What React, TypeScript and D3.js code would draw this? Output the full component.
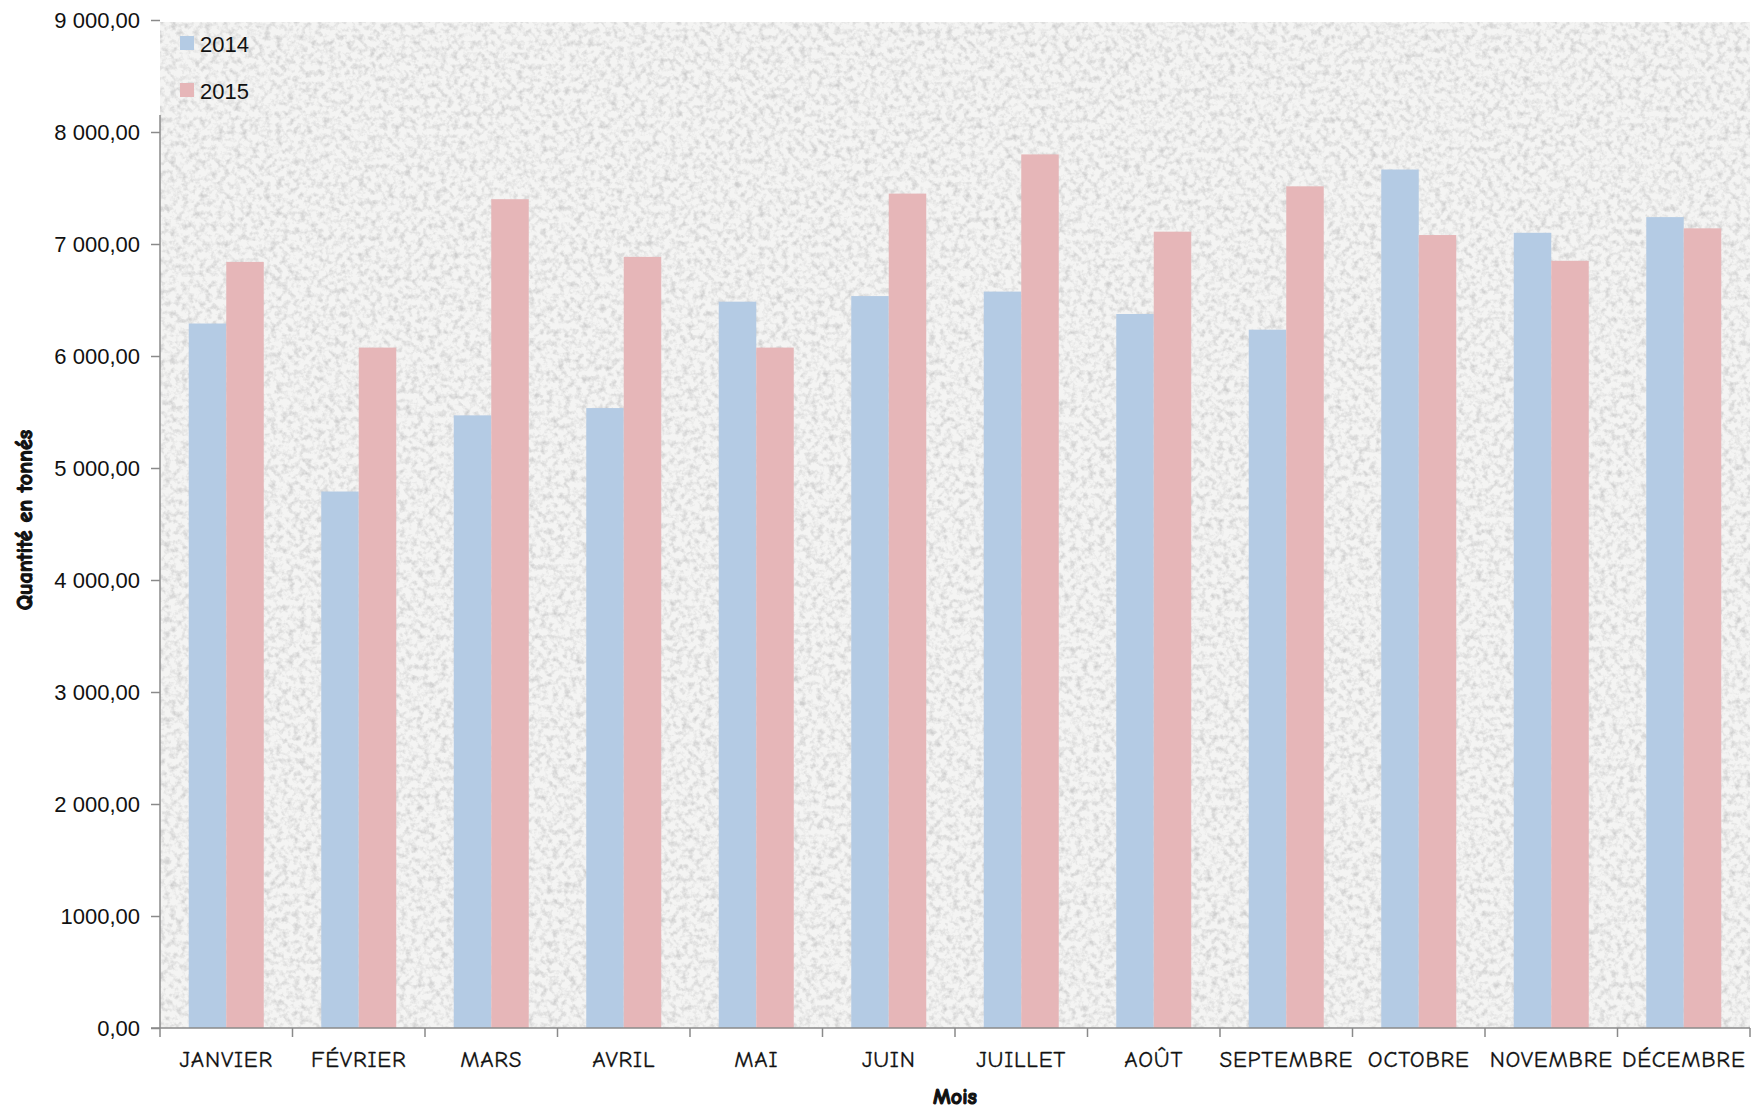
import * as d3 from "d3";
import { useEffect, useRef } from "react";

const MONTHS = [
	"JANVIER",
	"FÉVRIER",
	"MARS",
	"AVRIL",
	"MAI",
	"JUIN",
	"JUILLET",
	"AOÛT",
	"SEPTEMBRE",
	"OCTOBRE",
	"NOVEMBRE",
	"DÉCEMBRE",
];

const VALUES_2014 = [6290, 4790, 5470, 5535, 6485, 6535, 6575, 6375, 6235, 7665, 7100, 7240];
const VALUES_2015 = [6840, 6075, 7400, 6885, 6075, 7450, 7800, 7110, 7515, 7080, 6850, 7140];

const SERIES = [
	{ name: "2014", values: VALUES_2014, color: "#b4cbe4" },
	{ name: "2015", values: VALUES_2015, color: "#e6b6b8" },
];

const Y_TICKS = [0, 1000, 2000, 3000, 4000, 5000, 6000, 7000, 8000, 9000];
const Y_TICK_LABELS = [
	"0,00",
	"1000,00",
	"2 000,00",
	"3 000,00",
	"4 000,00",
	"5 000,00",
	"6 000,00",
	"7 000,00",
	"8 000,00",
	"9 000,00",
];

const Y_TITLE = "Quantité en tonnés";
const X_TITLE = "Mois";

const W = 1754;
const H = 1111;
const LEFT = 160;
const RIGHT = 1750;
const TOP = 20;
const BOTTOM = 1028;

const handFont = "'Comic Sans MS', 'Comic Neue', 'Open Sans', sans-serif";
const plainFont = "'Liberation Sans', Arial, sans-serif";

export default function App() {
	const svgRef = useRef<SVGSVGElement>(null);

	useEffect(() => {
		if (!svgRef.current) return;
		const svg = d3.select(svgRef.current);
		svg.selectAll("*").remove();

		const x = d3.scaleBand<string>().domain(MONTHS).range([LEFT, RIGHT]).paddingInner(0.434).paddingOuter(0.217);
		const xInner = d3
			.scaleBand<string>()
			.domain(SERIES.map((s) => s.name))
			.range([0, x.bandwidth()]);
		const y = d3.scaleLinear().domain([0, 9000]).range([BOTTOM, TOP]);

		// grainy plot background
		const defs = svg.append("defs");
		const filter = defs
			.append("filter")
			.attr("id", "grain")
			.attr("x", 0)
			.attr("y", 0)
			.attr("width", "100%")
			.attr("height", "100%");
		filter
			.append("feTurbulence")
			.attr("type", "fractalNoise")
			.attr("baseFrequency", 0.17)
			.attr("numOctaves", 3)
			.attr("seed", 7);
		filter
			.append("feColorMatrix")
			.attr("type", "matrix")
			.attr("values", "0 0 0 0 0.62  0 0 0 0 0.62  0 0 0 0 0.62  2.3 0 0 0 -0.99");

		const bgW = RIGHT - LEFT;
		svg.append("rect").attr("x", LEFT).attr("y", TOP + 2).attr("width", bgW).attr("height", BOTTOM - TOP - 2).attr("fill", "#f4f4f3");
		svg
			.append("rect")
			.attr("x", LEFT)
			.attr("y", TOP + 2)
			.attr("width", bgW)
			.attr("height", BOTTOM - TOP - 2)
			.attr("filter", "url(#grain)");

		// bars
		const groups = svg
			.append("g")
			.selectAll("g")
			.data(MONTHS)
			.join("g")
			.attr("transform", (m) => `translate(${x(m)},0)`);

		groups
			.selectAll("rect")
			.data((_, i) => SERIES.map((s) => ({ name: s.name, color: s.color, value: s.values[i] })))
			.join("rect")
			.attr("x", (d) => xInner(d.name) ?? 0)
			.attr("width", xInner.bandwidth())
			.attr("y", (d) => y(d.value))
			.attr("height", (d) => y(0) - y(d.value))
			.attr("fill", (d) => d.color);

		// y axis
		const yAxis = svg
			.append("g")
			.attr("transform", `translate(${LEFT},0)`)
			.call(
				d3
					.axisLeft(y)
					.tickValues(Y_TICKS)
					.tickSize(9)
					.tickPadding(11)
					.tickFormat((_, i) => Y_TICK_LABELS[i]),
			);
		yAxis.select(".domain").attr("stroke", "#8a8a8a").attr("stroke-width", 1.5).attr("d", `M0,${BOTTOM}V${TOP + 95}`);
		yAxis.selectAll(".tick line").attr("stroke", "#8a8a8a").attr("stroke-width", 1.5);
		yAxis
			.selectAll(".tick text")
			.attr("font-family", plainFont)
			.attr("font-size", 22)
			.attr("fill", "#111");

		// x axis with ticks at category boundaries
		const xAxisG = svg.append("g").attr("transform", `translate(0,${BOTTOM})`);
		xAxisG
			.append("line")
			.attr("x1", LEFT - 9)
			.attr("x2", RIGHT)
			.attr("stroke", "#8a8a8a")
			.attr("stroke-width", 1.5);
		const bounds = MONTHS.map((m) => (x(m) ?? 0) - x.step() * x.paddingOuter()).concat([RIGHT]);
		xAxisG
			.selectAll("line.tk")
			.data(bounds)
			.join("line")
			.attr("class", "tk")
			.attr("x1", (d) => d)
			.attr("x2", (d) => d)
			.attr("y1", 0)
			.attr("y2", 9)
			.attr("stroke", "#8a8a8a")
			.attr("stroke-width", 1.5);
		xAxisG
			.selectAll("text")
			.data(MONTHS)
			.join("text")
			.attr("x", (m) => (x(m) ?? 0) + x.bandwidth() / 2)
			.attr("y", 39)
			.attr("text-anchor", "middle")
			.attr("font-family", handFont)
			.attr("font-size", 23)
			.attr("letter-spacing", 0.8)
			.attr("fill", "#111")
			.attr("stroke", "#111")
			.attr("stroke-width", 0.3)
			.text((m) => m);

		// axis titles (stroked to get the heavy look of the original)
		svg
			.append("text")
			.attr("transform", `translate(32,${(TOP + BOTTOM) / 2 - 4}) rotate(-90)`)
			.attr("text-anchor", "middle")
			.attr("font-family", handFont)
			.attr("font-weight", "bold")
			.attr("font-size", 22)
			.attr("fill", "#111")
			.attr("stroke", "#111")
			.attr("stroke-width", 1.1)
			.text(Y_TITLE);
		svg
			.append("text")
			.attr("x", (LEFT + RIGHT) / 2)
			.attr("y", 1104)
			.attr("text-anchor", "middle")
			.attr("font-family", handFont)
			.attr("font-weight", "bold")
			.attr("font-size", 22)
			.attr("fill", "#111")
			.attr("stroke", "#111")
			.attr("stroke-width", 1.1)
			.text(X_TITLE);

		// legend
		const legend = svg.append("g");
		const legendItems = legend
			.selectAll("g")
			.data(SERIES)
			.join("g")
			.attr("transform", (_, i) => `translate(180,${43 + i * 47})`);
		legendItems
			.append("rect")
			.attr("x", 0)
			.attr("y", -7)
			.attr("width", 14)
			.attr("height", 14)
			.attr("fill", (d) => d.color);
		legendItems
			.append("text")
			.attr("x", 20)
			.attr("y", 1)
			.attr("dominant-baseline", "central")
			.attr("font-family", plainFont)
			.attr("font-size", 22)
			.attr("fill", "#111")
			.text((d) => d.name);
	}, []);

	return (
		<div style={{ position: "absolute", left: 0, top: 0, width: W, height: H, background: "#fff" }}>
			<svg ref={svgRef} width={W} height={H} style={{ display: "block" }} />
		</div>
	);
}
